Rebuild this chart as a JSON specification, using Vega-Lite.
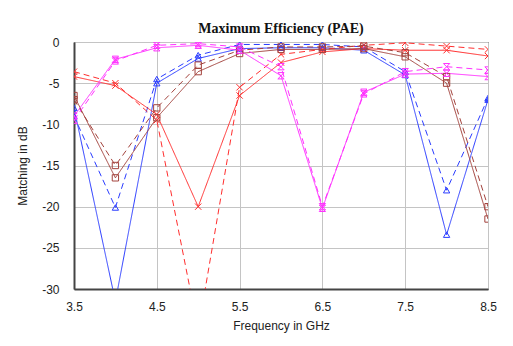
{
  "$schema": "https://vega.github.io/schema/vega-lite/v6.json",
  "autosize": {"type": "none"},
  "width": 414,
  "height": 247,
  "padding": {"left": 74, "top": 42, "right": 25, "bottom": 57},
  "background": "white",
  "title": {"text": "Maximum Efficiency (PAE)", "font": "Liberation Serif", "fontWeight": "bold", "fontSize": 14, "color": "#111", "anchor": "middle", "baseline": "alphabetic", "offset": 8, "dy": 19},
  "config": {
    "view": {"stroke": "#000", "strokeWidth": 1},
    "axis": {"labelFont": "Liberation Sans", "titleFont": "Liberation Sans", "labelFontSize": 12, "titleFontSize": 12, "labelColor": "#222", "titleColor": "#222", "titleFontWeight": "normal", "gridColor": "#c4c4c4", "gridWidth": 1, "gridOpacity": 1, "domainColor": "#444", "domainWidth": 2, "ticks": false, "labelFlush": false}
  },
  "data": {"values": [
    {"f":3.5,"v":-8.0,"s":"B1"},{"f":4.0,"v":-31.5,"s":"B1"},{"f":4.5,"v":-5.0,"s":"B1"},{"f":5.0,"v":-2.0,"s":"B1"},{"f":5.5,"v":-0.8,"s":"B1"},{"f":6.0,"v":-0.7,"s":"B1"},{"f":6.5,"v":-0.7,"s":"B1"},{"f":7.0,"v":-1.0,"s":"B1"},{"f":7.5,"v":-4.0,"s":"B1"},{"f":8.0,"v":-23.4,"s":"B1"},{"f":8.5,"v":-7.0,"s":"B1"},
    {"f":3.5,"v":-9.0,"s":"B2"},{"f":4.0,"v":-20.1,"s":"B2"},{"f":4.5,"v":-4.5,"s":"B2"},{"f":5.0,"v":-1.6,"s":"B2"},{"f":5.5,"v":-0.3,"s":"B2"},{"f":6.0,"v":-0.3,"s":"B2"},{"f":6.5,"v":-0.3,"s":"B2"},{"f":7.0,"v":-0.6,"s":"B2"},{"f":7.5,"v":-3.6,"s":"B2"},{"f":8.0,"v":-18.0,"s":"B2"},{"f":8.5,"v":-6.8,"s":"B2"},
    {"f":3.5,"v":-4.2,"s":"R1"},{"f":4.0,"v":-5.3,"s":"R1"},{"f":4.5,"v":-8.8,"s":"R1"},{"f":5.0,"v":-20.0,"s":"R1"},{"f":5.5,"v":-6.5,"s":"R1"},{"f":6.0,"v":-2.5,"s":"R1"},{"f":6.5,"v":-1.2,"s":"R1"},{"f":7.0,"v":-0.8,"s":"R1"},{"f":7.5,"v":-1.0,"s":"R1"},{"f":8.0,"v":-1.0,"s":"R1"},{"f":8.5,"v":-1.7,"s":"R1"},
    {"f":3.5,"v":-3.6,"s":"R2"},{"f":4.0,"v":-5.0,"s":"R2"},{"f":4.5,"v":-9.5,"s":"R2"},{"f":5.0,"v":-35.0,"s":"R2"},{"f":5.5,"v":-5.5,"s":"R2"},{"f":6.0,"v":-1.5,"s":"R2"},{"f":6.5,"v":-0.9,"s":"R2"},{"f":7.0,"v":-0.4,"s":"R2"},{"f":7.5,"v":-0.1,"s":"R2"},{"f":8.0,"v":-0.5,"s":"R2"},{"f":8.5,"v":-0.9,"s":"R2"},
    {"f":3.5,"v":-6.5,"s":"N1"},{"f":4.0,"v":-16.5,"s":"N1"},{"f":4.5,"v":-9.2,"s":"N1"},{"f":5.0,"v":-3.6,"s":"N1"},{"f":5.5,"v":-1.4,"s":"N1"},{"f":6.0,"v":-0.9,"s":"N1"},{"f":6.5,"v":-0.9,"s":"N1"},{"f":7.0,"v":-0.8,"s":"N1"},{"f":7.5,"v":-1.8,"s":"N1"},{"f":8.0,"v":-5.0,"s":"N1"},{"f":8.5,"v":-21.5,"s":"N1"},
    {"f":3.5,"v":-7.0,"s":"N2"},{"f":4.0,"v":-15.0,"s":"N2"},{"f":4.5,"v":-8.0,"s":"N2"},{"f":5.0,"v":-2.8,"s":"N2"},{"f":5.5,"v":-1.0,"s":"N2"},{"f":6.0,"v":-0.6,"s":"N2"},{"f":6.5,"v":-0.6,"s":"N2"},{"f":7.0,"v":-0.5,"s":"N2"},{"f":7.5,"v":-1.3,"s":"N2"},{"f":8.0,"v":-4.2,"s":"N2"},{"f":8.5,"v":-20.0,"s":"N2"},
    {"f":3.5,"v":-9.0,"s":"M1"},{"f":4.0,"v":-2.1,"s":"M1"},{"f":4.5,"v":-0.7,"s":"M1"},{"f":5.0,"v":-0.4,"s":"M1"},{"f":5.5,"v":-1.0,"s":"M1"},{"f":6.0,"v":-4.1,"s":"M1"},{"f":6.5,"v":-20.2,"s":"M1"},{"f":7.0,"v":-6.1,"s":"M1"},{"f":7.5,"v":-3.9,"s":"M1"},{"f":8.0,"v":-3.8,"s":"M1"},{"f":8.5,"v":-4.2,"s":"M1"},
    {"f":3.5,"v":-9.5,"s":"M2"},{"f":4.0,"v":-2.3,"s":"M2"},{"f":4.5,"v":-0.4,"s":"M2"},{"f":5.0,"v":-0.2,"s":"M2"},{"f":5.5,"v":-0.6,"s":"M2"},{"f":6.0,"v":-3.0,"s":"M2"},{"f":6.5,"v":-20.0,"s":"M2"},{"f":7.0,"v":-6.3,"s":"M2"},{"f":7.5,"v":-3.6,"s":"M2"},{"f":8.0,"v":-3.0,"s":"M2"},{"f":8.5,"v":-3.4,"s":"M2"}
  ]},
  "encoding": {
    "x": {"field": "f", "type": "quantitative", "scale": {"domain": [3.5, 8.5], "nice": false, "zero": false},
      "axis": {"values": [3.5, 4.5, 5.5, 6.5, 7.5, 8.5], "format": ".1f", "labelPadding": 12, "title": "Frequency in GHz", "titleY": 36, "titleBaseline": "middle"}},
    "y": {"field": "v", "type": "quantitative", "scale": {"domain": [-30, 0], "nice": false, "zero": false},
      "axis": {"values": [0, -5, -10, -15, -20, -25, -30], "labelExpr": "datum.value < 0 ? '-' + abs(datum.value) : '' + datum.value", "labelPadding": 15, "title": "Matching in dB", "titleX": -52, "titleY": 123.5, "titleBaseline": "middle", "titleAlign": "center", "titleAngle": -90}},
    "color": {"field": "s", "type": "nominal", "legend": null,
      "scale": {"domain": ["B1","B2","R1","R2","N1","N2","M1","M2"], "range": ["#2a3cff","#2a3cff","#ff2e2e","#ff2e2e","#a3423c","#a3423c","#ff30ff","#ff30ff"]}}
  },
  "layer": [
    {"mark": {"type": "line", "strokeWidth": 1, "clip": true},
     "encoding": {"strokeDash": {"field": "s", "type": "nominal", "legend": null,
       "scale": {"domain": ["B1","B2","R1","R2","N1","N2","M1","M2"], "range": [[1,0],[6,4],[1,0],[6,4],[1,0],[6,4],[1,0],[6,4]]}}}},
    {"mark": {"type": "point", "filled": false, "strokeWidth": 1, "size": 40, "opacity": 1, "clip": true},
     "encoding": {"shape": {"field": "s", "type": "nominal", "legend": null,
       "scale": {"domain": ["B1","B2","R1","R2","N1","N2","M1","M2"], "range": ["triangle-up","triangle-up","M-1,-1L1,1M1,-1L-1,1","M-1,-1L1,1M1,-1L-1,1","square","square","M-1,-1L1,-1L-1,1L1,1Z","M-1,-1L1,-1L-1,1L1,1Z"]}}}}
  ]
}
